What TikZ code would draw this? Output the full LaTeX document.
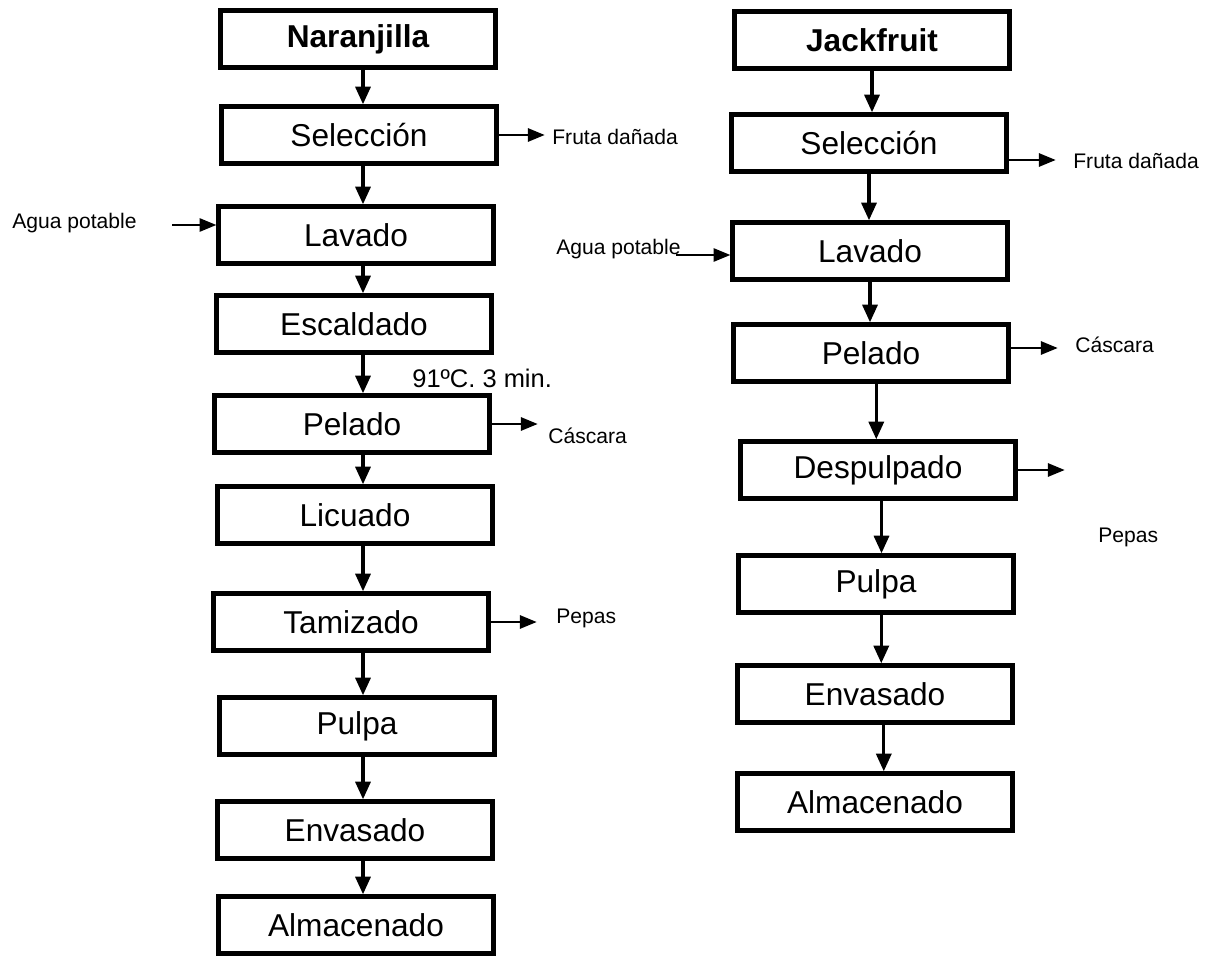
\documentclass[tikz,border=0pt]{standalone}
\usepackage{fontspec}
\setmainfont{Liberation Sans}
\usetikzlibrary{arrows.meta}
\usetikzlibrary{calc}
\tikzset{
	proc/.style={rectangle,draw,line width=2.5pt,minimum width=5.5cm,minimum height=1.14cm,font=\fontsize{18}{20}\selectfont},
	flow/.style={line width=1.9pt,-{Triangle[length=10pt,width=8.5pt]}},
	side/.style={line width=1.2pt,-{Triangle[length=9.5pt,width=7.5pt]}},
	lbl/.style={anchor=west,inner sep=0pt,font=\fontsize{12}{14}\selectfont}
}
\begin{document}
\begin{tikzpicture}[x=0.02cm,y=-0.02cm]
	\useasboundingbox (0,0) rectangle (1210,956);

	% Naranjilla
	\node[proc,font=\fontsize{18}{20}\selectfont\bfseries] (nar) at (358, 39) {Naranjilla};
	\node[proc] (selA) at (359, 135) {Selección};
	\node[proc] (lavA) at (356, 235) {Lavado};
	\node[proc] (escA) at (354, 324) {Escaldado};
	\node[proc] (pelA) at (352, 424) {Pelado};
	\node[proc] (licA) at (355, 515) {Licuado};
	\node[proc] (tamA) at (351, 622) {Tamizado};
	\node[proc] (pulA) at (357, 726) {Pulpa};
	\node[proc] (envA) at (355, 830) {Envasado};
	\node[proc] (almA) at (356, 925) {Almacenado};
	\coordinate (axA) at (363, 0);

	\draw[flow] (nar.south -| axA) -- (selA.north -| axA);
	\draw[flow] (selA.south -| axA) -- (lavA.north -| axA);
	\draw[flow] (lavA.south -| axA) -- (escA.north -| axA);
	\draw[flow] (escA.south -| axA) -- (pelA.north -| axA);
	\draw[flow] (pelA.south -| axA) -- (licA.north -| axA);
	\draw[flow] (licA.south -| axA) -- (tamA.north -| axA);
	\draw[flow] (tamA.south -| axA) -- (pulA.north -| axA);
	\draw[flow] (pulA.south -| axA) -- (envA.north -| axA);
	\draw[flow] (envA.south -| axA) -- (almA.north -| axA);

	\node[lbl] (fdA) at (552, 137) {Fruta dañada};
	\draw[side] (selA.east) -- ++(46,0);
	\node[lbl] (aguaA) at (12, 223) {Agua potable};
	\coordinate (aguaAst) at (172, 225);
	\draw[side] (aguaAst) -- (aguaAst -| lavA.west);
	\node[lbl,font=\fontsize{14.5}{16}\selectfont] (tempA) at (412, 378) {91ºC. 3 min.};
	\node[lbl] (casA) at (548, 436) {Cáscara};
	\draw[side] (pelA.east) -- ++(46,0);
	\node[lbl] (pepA) at (556, 618) {Pepas};
	\draw[side] (tamA.east) -- ++(46,0);

	% Jackfruit
	\node[proc,font=\fontsize{18}{20}\selectfont\bfseries] (jack) at (872, 40) {Jackfruit};
	\node[proc] (selB) at (869, 143) {Selección};
	\node[proc] (lavB) at (870, 251) {Lavado};
	\node[proc] (pelB) at (871, 353) {Pelado};
	\node[proc] (despB) at (878, 470) {Despulpado};
	\node[proc] (pulB) at (876, 584) {Pulpa};
	\node[proc] (envB) at (875, 694) {Envasado};
	\node[proc] (almB) at (875, 802) {Almacenado};

	\draw[flow] (jack.south) -- (jack.south |- selB.north);
	\draw[flow] (selB.south) -- (selB.south |- lavB.north);
	\draw[flow] (lavB.south) -- (lavB.south |- pelB.north);
	\draw[flow] ([xshift=3pt]pelB.south) -- ([xshift=3pt]pelB.south |- despB.north);
	\draw[flow] ([xshift=2pt]despB.south) -- ([xshift=2pt]despB.south |- pulB.north);
	\draw[flow] ([xshift=3pt]pulB.south) -- ([xshift=3pt]pulB.south |- envB.north);
	\draw[flow] ([xshift=5pt]envB.south) -- ([xshift=5pt]envB.south |- almB.north);

	\node[lbl] (fdB) at (1073, 161) {Fruta dañada};
	\draw[side] (selB.east) ++(0,17) -- ++(47,0);
	\node[lbl] (aguaB) at (556, 249) {Agua potable};
	\coordinate (aguaBst) at (676, 255);
	\draw[side] (aguaBst) -- (aguaBst -| lavB.west);
	\node[lbl] (casB) at (1075, 345) {Cáscara};
	\draw[side] (pelB.east) ++(0,-5) -- ++(47,0);
	\draw[side] (despB.east) -- ++(47,0);
	\node[lbl] (pepB) at (1098, 537) {Pepas};
\end{tikzpicture}
\end{document}
